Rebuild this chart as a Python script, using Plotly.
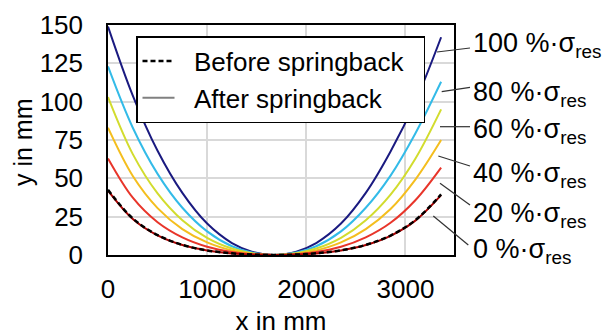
import plotly.graph_objects as go

# ---------------- data ----------------
x_mm = [0, 250, 500, 750, 1000, 1250, 1450, 1670, 1900, 2100, 2350, 2600, 2850, 3100, 3360]

y_before = [42.5, 23.8, 13.0, 6.6, 3.0, 1.1, 0.3, 0, 0.3, 1.1, 3.0, 6.6, 12.7, 22.7, 39.5]
y_0 = [42, 23.5, 12.8, 6.5, 3.0, 1.05, 0.3, 0, 0.3, 1.05, 3.0, 6.5, 12.5, 22.4, 39]
y_20 = [63, 37.4, 21.4, 11.5, 5.4, 2.0, 0.55, 0, 0.55, 2.0, 5.4, 11.5, 21.0, 35.7, 57]
y_40 = [83, 51.5, 30.6, 16.9, 8.2, 3.0, 0.86, 0, 0.86, 3.0, 8.2, 16.9, 30.0, 49.2, 75]
y_60 = [103, 65.8, 40.2, 22.7, 11.2, 4.2, 1.2, 0, 1.2, 4.2, 11.2, 22.7, 39.4, 62.8, 95]
y_80 = [123, 83.0, 52.9, 30.8, 15.4, 5.7, 1.6, 0, 1.6, 5.7, 15.4, 30.8, 51.8, 79.3, 113]
y_100 = [149, 104, 68, 40.5, 20.5, 7.8, 2.2, 0, 2.2, 7.8, 20.5, 40.5, 67.5, 100, 142]

series_labels = ["100 %·σ<sub>res</sub>", "80 %·σ<sub>res</sub>", "60 %·σ<sub>res</sub>",
                 "40 %·σ<sub>res</sub>", "20 %·σ<sub>res</sub>", "0 %·σ<sub>res</sub>"]
series_values = [y_100, y_80, y_60, y_40, y_20, y_0]
series_colors = ["#1A1A80", "#33BBE8", "#D2DC2E", "#F4BE1E", "#E8352A", "#A80000"]

x_ticks = [0, 1000, 2000, 3000]
y_ticks = [0, 25, 50, 75, 100, 125, 150]

FONT = "Arial, Liberation Sans, sans-serif"
FS = 26
NB = "\u00a0"

# ---------------- layout geometry ----------------
# page body has an 8px margin, so the figure starts at (8, 8) on screen
OFF = 8
W, H = 603, 328
L, R, T, B = 100, 157, 17, 81
PW, PH = W - L - R, H - T - B


def px(xs):
    """screen x pixel -> paper x"""
    return (xs - OFF - L) / PW


def py(ys):
    """screen y pixel -> paper y"""
    return (H - B - (ys - OFF)) / PH


fig = go.Figure()

for vals, col in zip(series_values, series_colors):
    fig.add_trace(go.Scatter(x=x_mm, y=vals, mode="lines", line=dict(color=col, width=2, shape="spline"),
                             showlegend=False, hoverinfo="skip"))

fig.add_trace(go.Scatter(x=x_mm, y=y_before, mode="lines", name=NB * 2 + "Before springback" + NB * 2,
                         line=dict(color="black", width=2.5, dash="5px,3px", shape="spline")))
fig.add_trace(go.Scatter(x=[None], y=[None], mode="lines", name=NB * 2 + "After springback",
                         line=dict(color="#808080", width=2)))

# label positions (screen pixels) and leader lines
label_y = [45, 94, 131, 175, 215, 251]
leaders = [((437, 52), (470, 48)), ((441.7, 91.7), (470, 87.3)), ((440, 126.7), (470, 126.7)),
           ((438.3, 156), (470, 166)), ((440, 183.3), (470, 205)), ((433.3, 216), (468.3, 245))]

shapes = []
annotations = []
for lab, ly, ((x0, y0), (x1, y1)) in zip(series_labels, label_y, leaders):
    shapes.append(dict(type="line", xref="paper", yref="paper", x0=px(x0), y0=py(y0), x1=px(x1), y1=py(y1),
                       line=dict(color="#333333", width=1.2)))
    annotations.append(dict(text=lab, xref="paper", yref="paper", x=px(471), y=py(ly),
                            xanchor="left", yanchor="middle", showarrow=False,
                            font=dict(family=FONT, size=27, color="black")))

annotations.append(dict(text="y in mm", xref="paper", yref="paper", x=px(23), y=py(142),
                        xanchor="center", yanchor="middle", textangle=-90, showarrow=False,
                        font=dict(family=FONT, size=25, color="black")))

fig.update_layout(
    width=W, height=H,
    margin=dict(l=L, r=R, t=T, b=B, autoexpand=False),
    paper_bgcolor="white", plot_bgcolor="white",
    font=dict(family=FONT, size=FS, color="black"),
    shapes=shapes, annotations=annotations,
    legend=dict(x=px(136), y=py(36), xanchor="left", yanchor="top",
                bordercolor="black", borderwidth=1.5, bgcolor="white",
                font=dict(family=FONT, size=FS, color="black"), itemwidth=32,
                tracegroupgap=0),
    xaxis=dict(range=[0, 3490], tickvals=x_ticks, ticktext=[str(v) for v in x_ticks],
               showgrid=True, gridcolor="#D9D9D9", gridwidth=1.5, zeroline=False,
               showline=True, mirror=True, linecolor="black", linewidth=1.5, ticks="",
               tickfont=dict(size=FS), ticklabelstandoff=10,
               title=dict(text="x in mm", font=dict(size=FS), standoff=16)),
    yaxis=dict(range=[0, 150], tickvals=y_ticks, showgrid=True, gridcolor="#D9D9D9", gridwidth=1.5,
               zeroline=False, showline=True, mirror=True, linecolor="black", linewidth=1.5,
               ticks="outside", ticklen=18, tickcolor="rgba(0,0,0,0)",
               tickfont=dict(size=FS)),
)

fig.write_html("out.html")
